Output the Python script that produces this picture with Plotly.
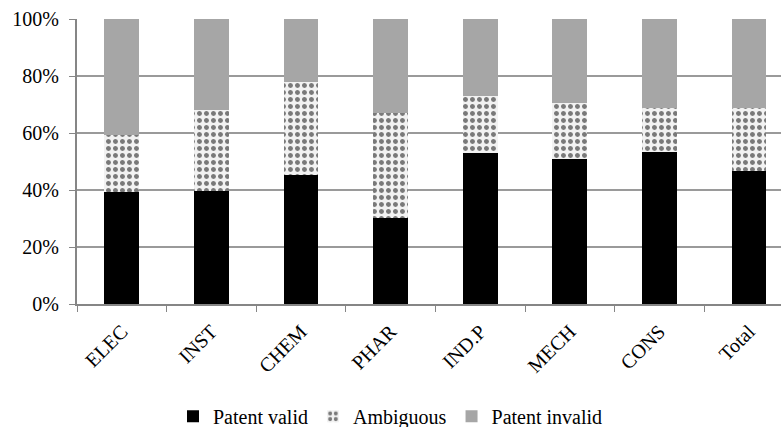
import plotly.graph_objects as go

categories = ["ELEC", "INST", "CHEM", "PHAR", "IND.P", "MECH", "CONS", "Total"]
patent_valid = [39.3, 39.6, 45.3, 30.1, 53.1, 51.0, 53.4, 46.8]
ambiguous = [20.0, 28.5, 32.5, 36.8, 19.9, 19.4, 15.3, 22.1]
patent_invalid = [round(100 - v - a, 1) for v, a in zip(patent_valid, ambiguous)]

FONT = "Liberation Serif"

fig = go.Figure()
fig.add_bar(x=categories, y=patent_valid, name="Patent valid",
            marker=dict(color="#000000", line=dict(width=0)))
fig.add_bar(x=categories, y=ambiguous, name="Ambiguous",
            marker=dict(color="#f2f2f2", line=dict(width=0),
                        pattern=dict(shape=".", fgcolor="#000000", bgcolor="#f2f2f2",
                                     size=7, solidity=0.4)))
fig.add_bar(x=categories, y=patent_invalid, name="Patent invalid",
            marker=dict(color="#a6a6a6", line=dict(width=0)))

fig.update_layout(
    barmode="stack",
    bargap=0.61,
    width=781, height=427,
    margin=dict(l=77, r=0, t=19, b=123),
    plot_bgcolor="white", paper_bgcolor="white",
    font=dict(family=FONT, size=20, color="#000000"),
    legend=dict(orientation="h", xref="container", x=0.5, xanchor="center",
                yref="container", y=0.025, yanchor="middle",
                font=dict(family=FONT, size=20), itemwidth=30,
                traceorder="normal"),
    showlegend=True,
)
fig.update_xaxes(
    type="category",
    range=[-0.5, 7.357],
    tickangle=-45,
    tickson="boundaries",
    ticks="outside", ticklen=6, tickcolor="#868686",
    showline=True, linecolor="#868686", linewidth=2,
    showgrid=False,
    tickfont=dict(family=FONT, size=20),
    ticklabelstandoff=6,
)
fig.update_yaxes(
    range=[0, 100],
    tickvals=[0, 20, 40, 60, 80, 100],
    ticktext=["0%", "20%", "40%", "60%", "80%", "100%"],
    ticks="outside", ticklen=6, tickcolor="#868686",
    showline=True, linecolor="#868686", linewidth=2,
    showgrid=True, gridcolor="#9a9a9a", gridwidth=2,
    zeroline=False,
    tickfont=dict(family=FONT, size=20),
    ticklabelstandoff=6,
)

fig.write_html("out.html")
